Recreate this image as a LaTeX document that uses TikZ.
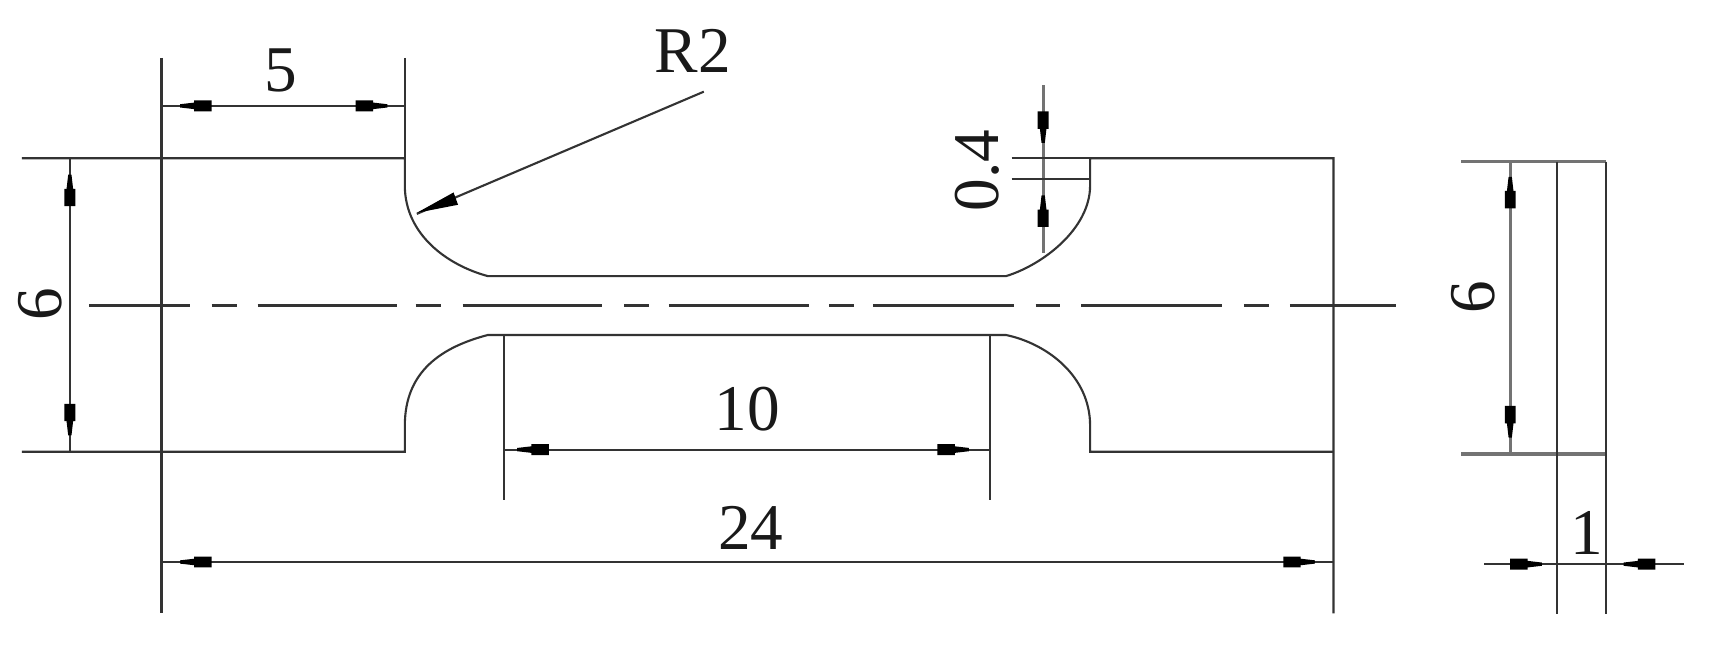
\documentclass[tikz,border=0pt]{standalone}
\usepackage{fontspec}
\setmainfont{Liberation Serif}
\usetikzlibrary{arrows.meta}
\tikzset{
    part/.style={line width=0.55pt,draw=black!80},
    partsoft/.style={line width=0.85pt,draw=black!55},
    dimlabel/.style={inner sep=0pt,text=black!90,font=\fontsize{17}{17}\selectfont},
    tipmark/.pic={\fill[black] (0,-1.5) -- (13,-3) -- (13,-5) -- (29,-5) -- (29,5) -- (13,5) -- (13,3) -- (0,1.5) -- cycle;},
    radiustip/.pic={\fill[black] (0,0) -- (38,-6) -- (38,6) -- cycle;}
}
\begin{document}
\begin{tikzpicture}[x=0.01cm,y=-0.01cm]
    \useasboundingbox (0,0) rectangle (1568,598.4);
    \draw[part] (20,145) -- (371,145) -- (371,170) .. controls (371,215) and (410,243) .. (447,253) -- (922,253) .. controls (955,243) and (999,210) .. (999,170) -- (999,145) -- (1222,145) -- (1222,562);
    \draw[part] (20,414) -- (371,414) -- (371,390) .. controls (371,340) and (405,318) .. (447,307) -- (922,307) .. controls (960,315) and (999,345) .. (999,390) -- (999,414) -- (1222,414);
    \draw[part] (148,53) -- (148,562);
    \draw[part] (371,53) -- (371,145);
    \foreach \a/\b in {82/174,194/217,236/364,381/404,424/552,572/595,613/741,760/783,800/929,949/971,991/1120,1140/1163,1182/1279}
        \draw[part] (\a,280) -- (\b,280);
    \draw[part] (148,97) -- (371,97);
    \draw[part] (64,145) -- (64,414);
    \draw[part] (645,84) -- (382,196);
    \draw[partsoft] (956,78) -- (956,232);
    \draw[part] (927,164) -- (999,164);
    \draw[part] (927,145) -- (999,145);
    \draw[part] (462,307) -- (462,458);
    \draw[part] (907,307) -- (907,458);
    \draw[part] (462,412) -- (907,412);
    \draw[part] (148,515) -- (1222,515);
    \draw[partsoft] (1339,148) -- (1472,148);
    \draw[partsoft] (1339,416) -- (1472,416);
    \draw[part] (1472,148) -- (1472,563);
    \draw[part] (1427,148) -- (1427,563);
    \draw[partsoft] (1384,148) -- (1384,416);
    \draw[part] (1360,517) -- (1543,517);
    \pic[rotate=0] at (165,97) {tipmark};
    \pic[rotate=180] at (355,97) {tipmark};
    \pic[rotate=-90] at (64,160) {tipmark};
    \pic[rotate=90] at (64,399) {tipmark};
    \pic[rotate=20] at (382,195) {radiustip};
    \pic[rotate=90] at (956,131) {tipmark};
    \pic[rotate=-90] at (956,179) {tipmark};
    \pic[rotate=0] at (474,412) {tipmark};
    \pic[rotate=180] at (888,412) {tipmark};
    \pic[rotate=0] at (165,515) {tipmark};
    \pic[rotate=180] at (1205,515) {tipmark};
    \pic[rotate=-90] at (1384,162) {tipmark};
    \pic[rotate=90] at (1384,401) {tipmark};
    \pic[rotate=180] at (1413,517) {tipmark};
    \pic[rotate=0] at (1488,517) {tipmark};
    \node[dimlabel] (five) at (257,65) {5};
    \node[dimlabel] (radius) at (635,47) {R2};
    \node[dimlabel,rotate=90] (heightleft) at (37,279) {6};
    \node[dimlabel,rotate=90] (fillet) at (896,156) {0.4};
    \node[dimlabel] (gauge) at (685,375) {10};
    \node[dimlabel] (total) at (688,484) {24};
    \node[dimlabel,rotate=90] (heightright) at (1350,272) {6};
    \node[dimlabel] (thick) at (1454,488) {1};
\end{tikzpicture}
\end{document}
